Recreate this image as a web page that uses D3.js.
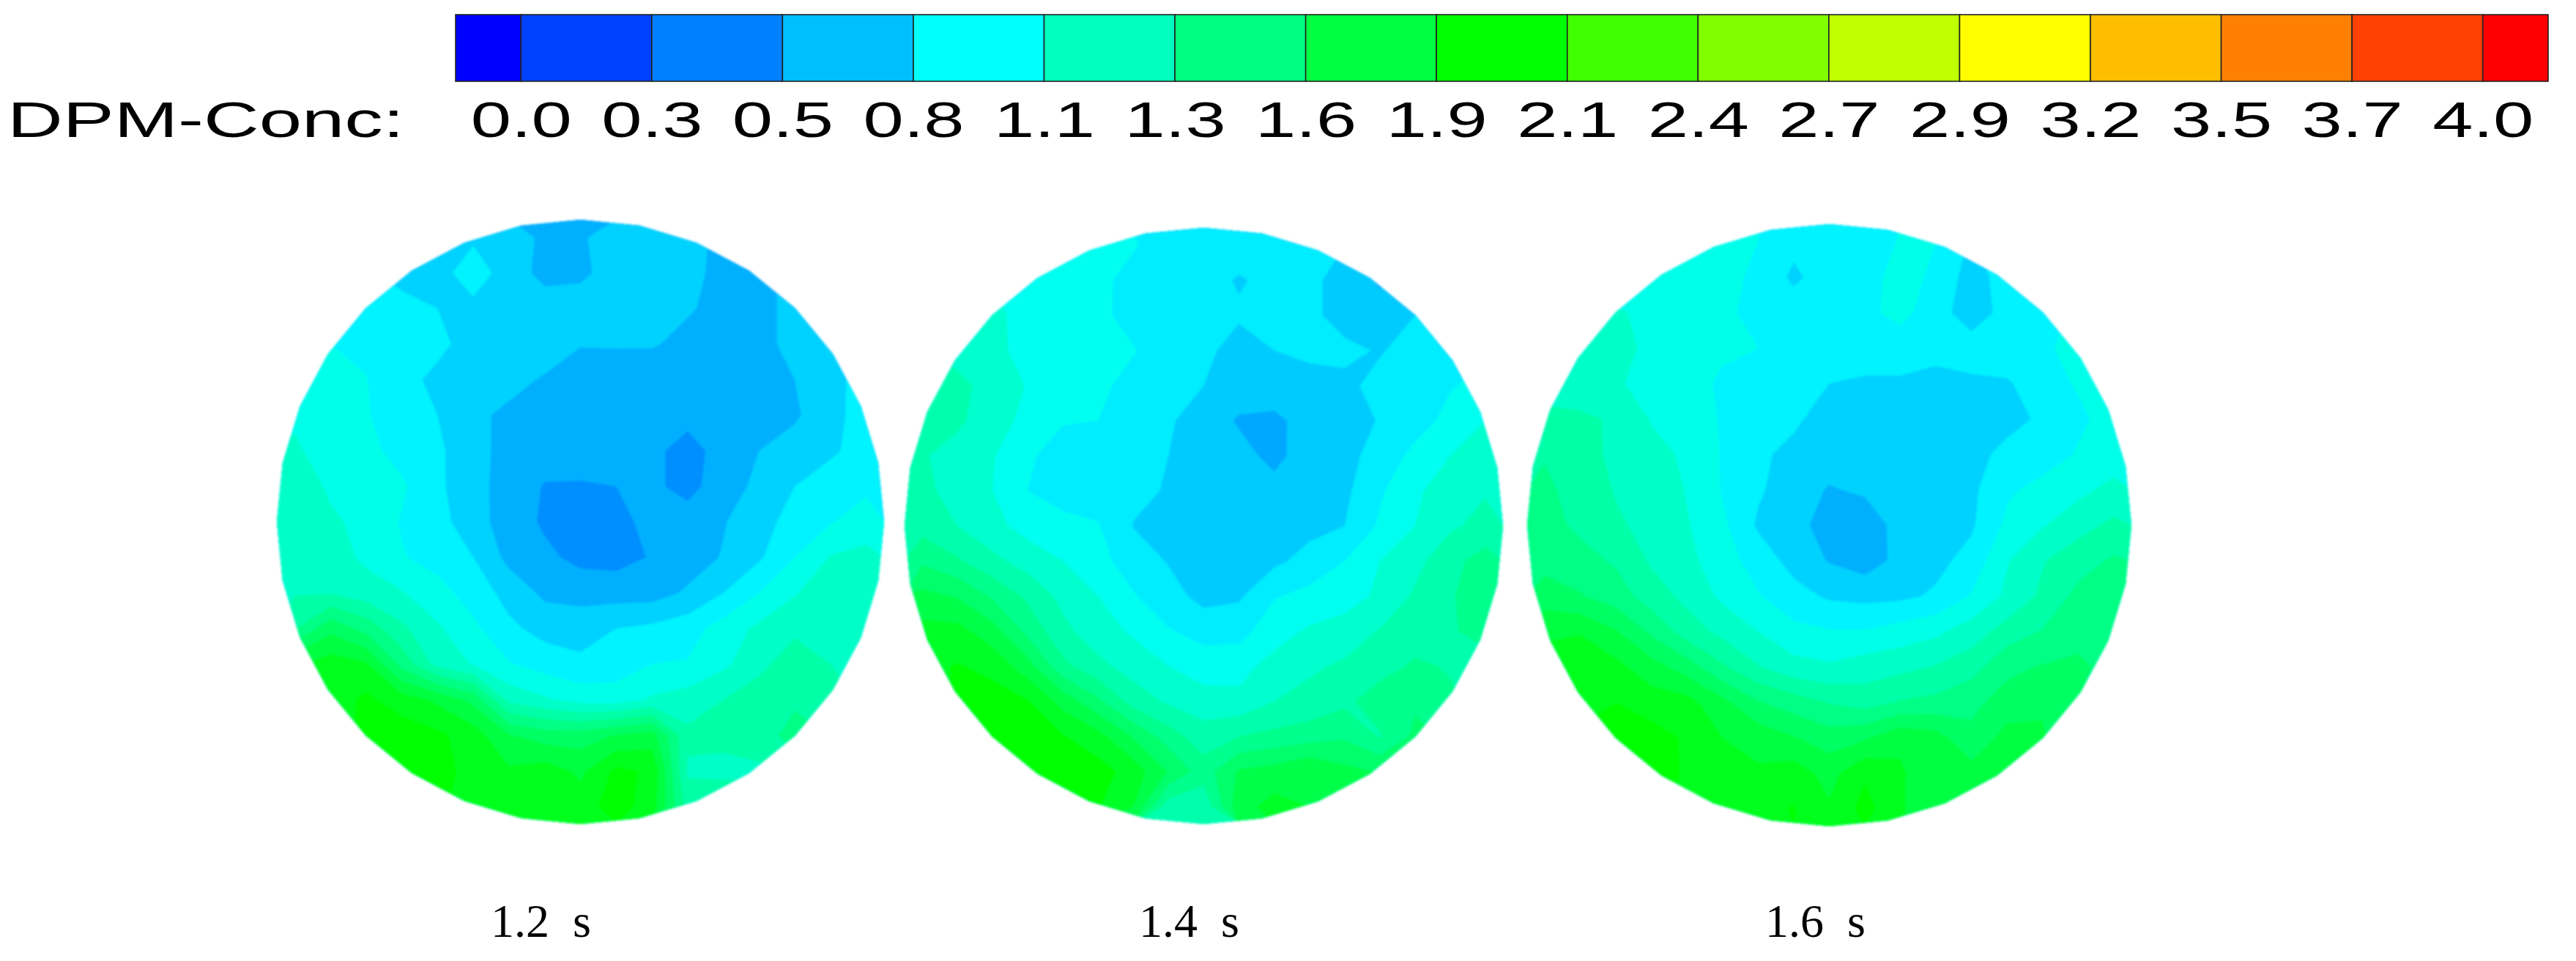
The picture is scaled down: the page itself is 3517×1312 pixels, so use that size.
<!DOCTYPE html>
<html>
<head>
<meta charset="utf-8">
<title>DPM-Conc</title>
<script src="https://cdn.jsdelivr.net/npm/d3@7"></script>
<style>
  html, body { margin: 0; padding: 0; background: #fff; }
  svg { display: block; }
</style>
</head>
<body>
<div id="chart"></div>
<script>
// Legend
const legendLabels = ["0.0","0.3","0.5","0.8","1.1","1.3","1.6","1.9","2.1","2.4","2.7","2.9","3.2","3.5","3.7","4.0"];
const legendColors = ["#0000ff","#0040ff","#0080ff","#00bfff","#00ffff","#00ffbf","#00ff80","#00ff40","#00ff00",
  "#40ff00","#80ff00","#bfff00","#ffff00","#ffbf00","#ff8000","#ff4000","#ff0000"];

// Times under each disc
const timeLabels = ["1.2  s", "1.4  s", "1.6  s"];

// First contour level of each disc, levels step by levelStep
const firstLevels = [0.53, 0.50, 0.53];
const levelStep = 0.14;

// Concentration, 17 x 17, outside the disc is only filler
const field12 = [
  [1.00,1.00,.95,.90,.90,.92,.86,.79,.80,.85,.87,.85,.78,.78,.82,.90,.95],
  [1.05,1.03,.97,.90,.88,1.05,.86,.78,.79,.85,.86,.84,.78,.78,.84,.90,.95],
  [1.10,1.07,1.03,1.00,.95,.90,.88,.86,.86,.86,.85,.82,.78,.77,.85,.90,.95],
  [1.12,1.09,1.06,1.02,.98,.90,.88,.86,.815,.82,.82,.78,.76,.75,.87,.93,1.00],
  [1.20,1.16,1.095,.99,.92,.87,.84,.80,.76,.74,.73,.73,.73,.74,.81,.91,1.00],
  [1.22,1.18,1.10,1.02,.95,.83,.79,.76,.74,.72,.71,.71,.71,.72,.79,.90,1.02],
  [1.24,1.20,1.13,1.04,.98,.84,.78,.74,.72,.71,.70,.62,.72,.81,.87,.93,1.00],
  [1.34,1.20,1.18,1.11,.98,.85,.76,.66,.66,.67,.70,.62,.75,.84,.95,1.01,1.06],
  [1.32,1.26,1.18,1.08,1.00,.87,.74,.65,.62,.62,.72,.74,.80,.90,1.00,1.08,1.16],
  [1.34,1.30,1.20,1.10,1.04,.95,.77,.70,.63,.62,.68,.74,.82,.93,1.09,1.24,1.27],
  [1.36,1.36,1.30,1.24,1.14,1.03,.90,.78,.76,.75,.75,.83,.95,1.09,1.22,1.31,1.33],
  [1.50,1.75,1.60,1.40,1.25,1.12,.98,.90,.89,.95,.98,1.03,1.15,1.26,1.34,1.36,1.36],
  [1.90,2.00,1.95,1.60,1.32,1.22,1.10,1.03,.98,1.02,1.09,1.10,1.20,1.33,1.45,1.37,1.36],
  [1.90,2.00,2.10,2.00,1.90,1.75,1.33,1.25,1.18,1.16,1.25,1.30,1.37,1.45,1.47,1.40,1.36],
  [1.95,2.00,2.10,2.15,2.10,2.00,1.80,1.72,1.72,1.80,1.85,1.40,1.38,1.40,1.60,1.50,1.40],
  [2.00,2.05,2.10,2.15,2.15,2.00,1.95,2.00,1.90,2.10,2.05,1.35,1.36,1.36,1.40,1.40,1.40],
  [2.00,2.05,2.10,2.10,2.10,2.00,2.00,2.00,2.00,2.14,2.00,1.45,1.40,1.40,1.40,1.40,1.40]
];
const field14 = [
  [1.10,1.12,1.12,1.12,1.12,1.10,1.07,1.00,.98,.97,.97,.96,.92,.88,.90,.95,1.00],
  [1.20,1.20,1.20,1.17,1.15,1.09,1.02,.97,.96,.91,.95,.95,.87,.76,.88,.95,1.00],
  [1.25,1.25,1.24,1.14,1.13,1.10,1.00,.96,.94,.935,.93,.95,.87,.84,.92,.98,1.03],
  [1.35,1.30,1.24,1.15,1.12,1.10,1.07,.98,.95,.87,.92,.96,.95,.91,.97,1.02,1.05],
  [1.40,1.37,1.30,1.19,1.11,1.10,1.00,.97,.92,.87,.88,.85,.89,.96,1.00,1.05,1.10],
  [1.40,1.36,1.28,1.15,1.07,1.06,.98,.93,.88,.76,.74,.85,.85,.93,1.00,1.10,1.20],
  [1.35,1.30,1.21,1.08,1.00,.97,.96,.92,.88,.84,.73,.87,.88,.97,1.10,1.20,1.30],
  [1.38,1.28,1.20,1.06,1.02,.99,.95,.91,.86,.84,.84,.86,.89,1.04,1.18,1.26,1.33],
  [1.43,1.34,1.24,1.15,1.09,1.07,.915,.88,.85,.84,.85,.88,.92,1.08,1.20,1.32,1.38],
  [1.60,1.50,1.38,1.28,1.20,1.10,1.00,.91,.86,.86,.89,.97,1.06,1.20,1.30,1.43,1.55],
  [1.80,1.75,1.60,1.45,1.30,1.20,1.07,.98,.87,.90,1.05,1.10,1.13,1.23,1.36,1.46,1.60],
  [1.95,1.95,1.82,1.58,1.38,1.26,1.18,1.07,1.02,1.01,1.14,1.22,1.27,1.35,1.42,1.46,1.55],
  [2.00,2.05,2.00,1.82,1.52,1.38,1.28,1.20,1.12,1.15,1.25,1.32,1.36,1.43,1.50,1.47,1.40],
  [2.00,2.05,2.10,2.05,1.85,1.65,1.42,1.32,1.27,1.24,1.34,1.38,1.45,1.55,1.60,1.50,1.45],
  [2.05,2.10,2.12,2.10,2.05,1.95,1.75,1.55,1.40,1.48,1.52,1.56,1.60,1.47,1.65,1.60,1.50],
  [2.05,2.10,2.12,2.10,2.10,2.10,1.98,1.75,1.55,1.78,1.82,1.90,1.80,1.75,1.70,1.60,1.50],
  [2.05,2.10,2.10,2.10,2.10,2.05,1.90,1.40,1.38,1.85,1.95,1.90,1.80,1.75,1.70,1.60,1.50]
];
const field16 = [
  [1.15,1.15,1.15,1.15,1.14,1.13,1.09,.99,1.00,1.02,1.10,1.09,.93,1.05,1.08,1.10,1.15],
  [1.20,1.20,1.18,1.16,1.15,1.12,1.07,.92,1.03,1.05,1.13,1.07,.88,1.02,1.10,1.12,1.15],
  [1.27,1.26,1.24,1.21,1.14,1.11,1.06,1.03,1.03,1.06,1.13,1.02,.86,1.01,1.06,1.10,1.15],
  [1.30,1.28,1.26,1.21,1.15,1.11,1.09,1.05,1.03,1.02,1.02,1.00,1.03,1.06,1.08,1.11,1.15],
  [1.32,1.27,1.24,1.20,1.14,1.07,1.04,1.00,.95,.93,.93,.90,.92,.93,1.05,1.10,1.13],
  [1.40,1.40,1.35,1.22,1.15,1.08,1.02,.97,.90,.88,.88,.87,.87,.89,.98,1.07,1.13],
  [1.50,1.44,1.33,1.27,1.21,1.08,.97,.92,.87,.85,.84,.85,.89,1.00,1.03,1.10,1.14],
  [1.54,1.45,1.36,1.34,1.22,1.08,.97,.87,.80,.83,.85,.87,.92,1.07,1.13,1.19,1.28],
  [1.56,1.48,1.39,1.33,1.24,1.12,.93,.85,.76,.73,.86,.88,.93,1.12,1.22,1.32,1.40],
  [1.60,1.56,1.49,1.35,1.27,1.15,1.03,.90,.80,.74,.85,.91,1.00,1.22,1.36,1.45,1.53],
  [1.72,1.66,1.58,1.44,1.33,1.20,1.10,1.00,.93,.91,.92,.97,1.10,1.26,1.40,1.55,1.63],
  [1.90,1.92,1.80,1.62,1.44,1.33,1.23,1.13,1.10,1.10,1.15,1.20,1.30,1.43,1.52,1.60,1.60],
  [2.00,2.03,1.97,1.85,1.72,1.53,1.38,1.28,1.25,1.30,1.33,1.38,1.45,1.62,1.66,1.68,1.60],
  [2.00,2.05,2.07,2.00,1.98,1.83,1.66,1.58,1.50,1.45,1.52,1.55,1.62,1.70,1.78,1.65,1.60],
  [2.05,2.08,2.10,2.13,2.05,1.93,1.88,1.80,1.72,1.77,1.90,1.85,1.68,1.85,1.80,1.70,1.60],
  [2.05,2.10,2.12,2.15,2.05,1.98,1.95,2.00,1.88,2.05,1.95,1.82,1.85,1.80,1.75,1.70,1.60],
  [2.05,2.10,2.10,2.10,2.05,2.00,2.02,2.08,1.95,2.12,1.95,1.82,1.80,1.75,1.70,1.65,1.60]
];
const fields = [field12, field14, field16];

const width = 3517;
const height = 1312;

// Disc boxes measured on the picture
const discs = [
  { left: 378, right: 1207, top: 300, bottom: 1125, labelX: 670 },
  { left: 1235, right: 2052, top: 311, bottom: 1125, labelX: 1555 },
  { left: 2085, right: 2910, top: 306, bottom: 1128, labelX: 2410 }
];
const polygonSides = 32;
const gridSize = 17;

const svg = d3.select("#chart")
  .append("svg")
  .attr("width", width)
  .attr("height", height);

// Same rainbow as the legend, 0 to 4
const color = d3.scaleLinear()
  .domain([0, 1.07, 2.13, 3.2, 4])
  .range(["#0000ff", "#00ffff", "#00ff00", "#ffff00", "#ff0000"]);

// Legend bar, labels sit on the cell borders
const legendX = d3.scaleLinear()
  .domain([-0.5, legendLabels.length - 0.5])
  .range([622, 3479]);

svg.append("g")
  .attr("class", "legend-cells")
  .selectAll("rect")
  .data(legendColors)
  .join("rect")
  .attr("x", (d, i) => legendX(Math.max(i - 1, -0.5)))
  .attr("y", 20)
  .attr("width", (d, i) => legendX(Math.min(i, legendLabels.length - 0.5)) - legendX(Math.max(i - 1, -0.5)))
  .attr("height", 91)
  .attr("fill", d => d)
  .attr("stroke", "#222")
  .attr("stroke-width", 1.6);

const legendAxis = d3.axisBottom(legendX)
  .tickValues(d3.range(legendLabels.length))
  .tickFormat(i => legendLabels[i])
  .tickSize(0)
  .tickPadding(0);

const legendTicks = svg.append("g")
  .attr("transform", "translate(0,187)")
  .call(legendAxis);
legendTicks.select(".domain").remove();
legendTicks.selectAll("text")
  .attr("y", 0)
  .attr("dy", 0)
  .attr("transform", "scale(1.44,1)")
  .attr("font-family", "'Liberation Sans', Arial, sans-serif")
  .attr("font-size", 69)
  .attr("fill", "#000");

svg.append("text")
  .attr("transform", "translate(10,187) scale(1.52,1)")
  .attr("font-family", "'Liberation Sans', Arial, sans-serif")
  .attr("font-size", 69)
  .attr("fill", "#000")
  .text("DPM-Conc:");

const defs = svg.append("defs");
defs.append("filter")
  .attr("id", "soft")
  .attr("x", "-5%").attr("y", "-5%")
  .attr("width", "110%").attr("height", "110%")
  .append("feGaussianBlur")
  .attr("stdDeviation", 1.8);

discs.forEach((disc, k) => {
  const x = d3.scaleLinear().domain([0, gridSize]).range([disc.left, disc.right]);
  const y = d3.scaleLinear().domain([0, gridSize]).range([disc.top, disc.bottom]);

  // Mesh outline is a polygon with a corner on top, not a true circle
  const outline = d3.range(polygonSides).map(i => {
    const a = i / polygonSides * 2 * Math.PI;
    return [x(gridSize / 2 + gridSize / 2 * Math.cos(a)), y(gridSize / 2 + gridSize / 2 * Math.sin(a))];
  });
  defs.append("clipPath")
    .attr("id", `disc-${k}`)
    .append("polygon")
    .attr("points", outline.map(p => p.join(",")).join(" "));

  const levels = d3.range(0, 13).map(i => firstLevels[k] + i * levelStep);
  const contours = d3.contours()
    .size([gridSize, gridSize])
    .thresholds(levels)(fields[k].flat());

  const path = d3.geoPath(d3.geoTransform({
    point(px, py) { this.stream.point(x(px), y(py)); }
  }));

  // Blur outside the clip so the disc edge goes soft too
  const g = svg.append("g")
    .attr("filter", "url(#soft)")
    .append("g")
    .attr("clip-path", `url(#disc-${k})`);

  g.append("rect")
    .attr("x", disc.left)
    .attr("y", disc.top)
    .attr("width", disc.right - disc.left)
    .attr("height", disc.bottom - disc.top)
    .attr("fill", color(firstLevels[k]));

  g.selectAll("path")
    .data(contours)
    .join("path")
    .attr("d", path)
    .attr("fill", d => color(d.value + levelStep / 2));

  svg.append("text")
    .attr("x", disc.labelX)
    .attr("y", 1279)
    .style("white-space", "pre")
    .attr("font-family", "'Liberation Serif', 'Times New Roman', serif")
    .attr("font-size", 64)
    .attr("fill", "#000")
    .text(timeLabels[k]);
});
</script>
</body>
</html>
